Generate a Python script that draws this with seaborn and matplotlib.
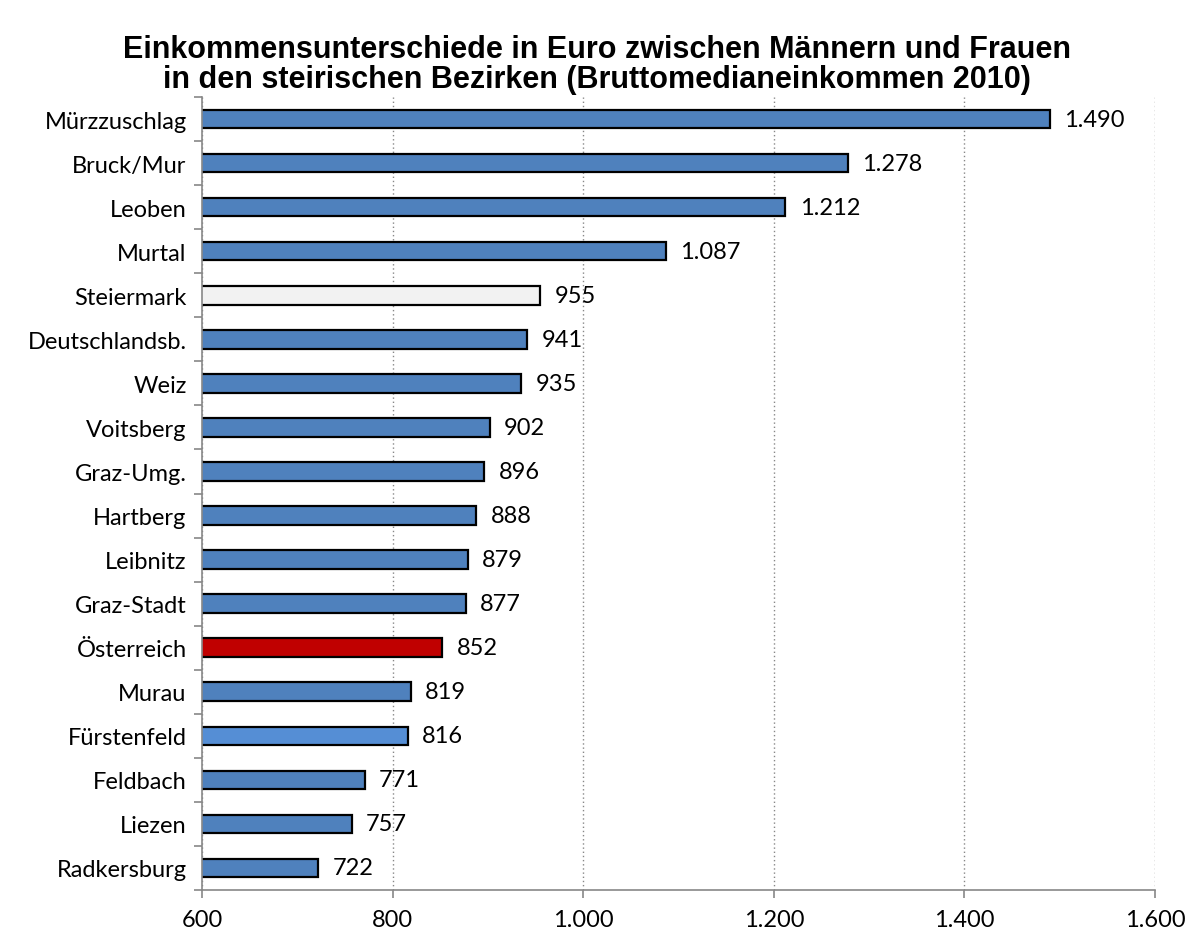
import matplotlib
matplotlib.use("Agg")
import matplotlib.pyplot as plt
import numpy as np
import seaborn as sns
from matplotlib.ticker import FuncFormatter

districts = ["Mürzzuschlag", "Bruck/Mur", "Leoben", "Murtal", "Steiermark",
             "Deutschlandsb.", "Weiz", "Voitsberg", "Graz-Umg.", "Hartberg",
             "Leibnitz", "Graz-Stadt", "Österreich", "Murau", "Fürstenfeld",
             "Feldbach", "Liezen", "Radkersburg"]
gap_eur = [1490, 1278, 1212, 1087, 955, 941, 935, 902, 896, 888,
           879, 877, 852, 819, 816, 771, 757, 722]

BLUE = "#4F81BD"
colors = {d: BLUE for d in districts}
colors["Steiermark"] = "#F2F2F2"
colors["Österreich"] = "#C00000"
colors["Fürstenfeld"] = "#558ED5"

sns.set_style("white")
plt.rcParams["font.family"] = ["Lato", "DejaVu Sans"]

def de_fmt(v):
    return f"{int(v):,}".replace(",", ".")

fig = plt.figure(figsize=(11.86, 9.37), dpi=100)
ax = fig.add_axes([0.1703, 0.0491, 0.8036, 0.8463])

sns.barplot(x=gap_eur, y=districts, hue=districts, palette=colors, legend=False,
            orient="h", width=0.42, saturation=1, edgecolor="black", linewidth=1.6, ax=ax)

ax.set_xlim(600, 1600)
ax.set_ylim(len(districts) - 0.5, -0.5)
ax.set_xticks(np.arange(600, 1601, 200))
ax.xaxis.set_major_formatter(FuncFormatter(lambda v, p: de_fmt(v)))
ax.grid(axis="x", color="#888888", linestyle=(0, (1, 2)), linewidth=1)
ax.set_axisbelow(True)

# category boundary ticks, Excel style
ax.set_yticks(np.arange(len(districts)))
ax.set_yticks(np.arange(-0.5, len(districts), 1), minor=True)
ax.tick_params(axis="y", which="major", length=0, labelsize=17, pad=11, labelcolor="black")
ax.tick_params(axis="y", which="minor", length=6, color="#888888", width=1.2, direction="out", left=True)
ax.tick_params(axis="x", length=6, color="#888888", width=1.2, direction="out", bottom=True,
               labelsize=17, pad=8, labelcolor="black")

for s in ["top", "right"]:
    ax.spines[s].set_visible(False)
for s in ["left", "bottom"]:
    ax.spines[s].set_color("#888888")
    ax.spines[s].set_linewidth(1.2)

for i, v in enumerate(gap_eur):
    ax.text(v + 15, i, de_fmt(v), va="center", ha="left", fontsize=17, color="black")

ax.set_xlabel("")
ax.set_ylabel("")
fig.suptitle("Einkommensunterschiede in Euro zwischen Männern und Frauen\n"
             "in den steirischen Bezirken (Bruttomedianeinkommen 2010)",
             fontsize=22, fontweight="bold", family=["Liberation Sans", "DejaVu Sans"],
             color="black", x=0.503, y=0.963, linespacing=1.03)

fig.savefig("out.png", dpi=100)
